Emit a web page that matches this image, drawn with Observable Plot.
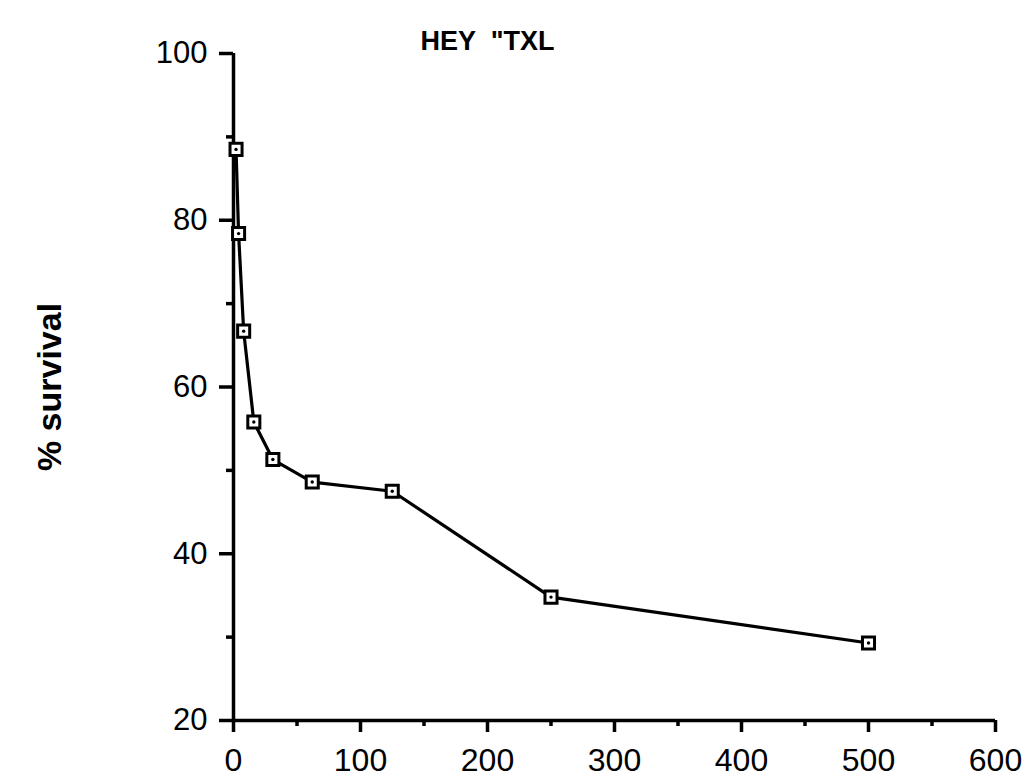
<!DOCTYPE html>
<html>
<head>
<meta charset="utf-8">
<script src="https://cdn.jsdelivr.net/npm/d3@7"></script>
<script src="https://cdn.jsdelivr.net/npm/@observablehq/plot@0.6"></script>
<style>
  html, body { margin: 0; padding: 0; background: #fff; }
  #chart svg { display: block; }
  #chart svg g[aria-label$="tick"] path { stroke-width: 3.5px; stroke: #000; }
</style>
</head>
<body>
<div id="chart"></div>
<script>
const titleText = "HEY  \"TXL";
const yLabel = "% survival";
const concentration = [2, 4, 8, 16, 31, 62, 125, 250, 500];
const survival = [88.5, 78.4, 66.7, 55.8, 51.3, 48.6, 47.5, 34.8, 29.3];
const xMajorTicks = [0, 100, 200, 300, 400, 500, 600];
const xMinorTicks = [50, 150, 250, 350, 450, 550];
const yMajorTicks = [20, 40, 60, 80, 100];
const yMinorTicks = [30, 50, 70, 90];

const data = concentration.map((x, i) => ({x, y: survival[i]}));
const font = "'Liberation Sans', Arial, Helvetica, sans-serif";

const chart = Plot.plot({
  width: 1029,
  height: 782,
  marginLeft: 233,
  marginRight: 34,
  marginTop: 53,
  marginBottom: 62,
  style: {fontFamily: font, background: "#fff", color: "#000"},
  x: {domain: [0, 600], label: null},
  y: {domain: [20, 100], label: null},
  marks: [
    Plot.axisX(xMinorTicks, {tickSize: 6, tickFormat: () => "", label: null}),
    Plot.axisX(xMajorTicks, {tickSize: 12, tickPadding: 16, label: null, fontSize: 32, fontFamily: font, fill: "#000", style: "letter-spacing:3px"}),
    Plot.axisY(yMinorTicks, {tickSize: 7, tickFormat: () => "", label: null}),
    Plot.axisY(yMajorTicks, {tickSize: 14, tickPadding: 12, label: null, fontSize: 31, fontFamily: font, fill: "#000", style: "letter-spacing:1.5px"}),
    Plot.ruleY([20], {x1: 0, x2: 600, strokeWidth: 3.5}),
    Plot.ruleX([0], {y1: 20, y2: 100, strokeWidth: 3.5}),
    Plot.line(data, {x: "x", y: "y", stroke: "#000", strokeWidth: 3.2}),
    Plot.dot(data, {x: "x", y: "y", symbol: "square", r: 6.8, fill: "#fff", stroke: "#000", strokeWidth: 3}),
    Plot.dot(data, {x: "x", y: "y", r: 1.7, fill: "#000"}),
    Plot.text([titleText], {frameAnchor: "top", dx: -127, dy: -23, fontSize: 27, fontWeight: "bold", fontFamily: font, fill: "#000"}),
    Plot.text([yLabel], {frameAnchor: "left", textAnchor: "middle", dx: -183, rotate: -90, fontSize: 34, fontWeight: "bold", fontFamily: font, fill: "#000", style: "letter-spacing:3.5px"})
  ]
});
document.getElementById("chart").append(chart);
</script>
</body>
</html>
